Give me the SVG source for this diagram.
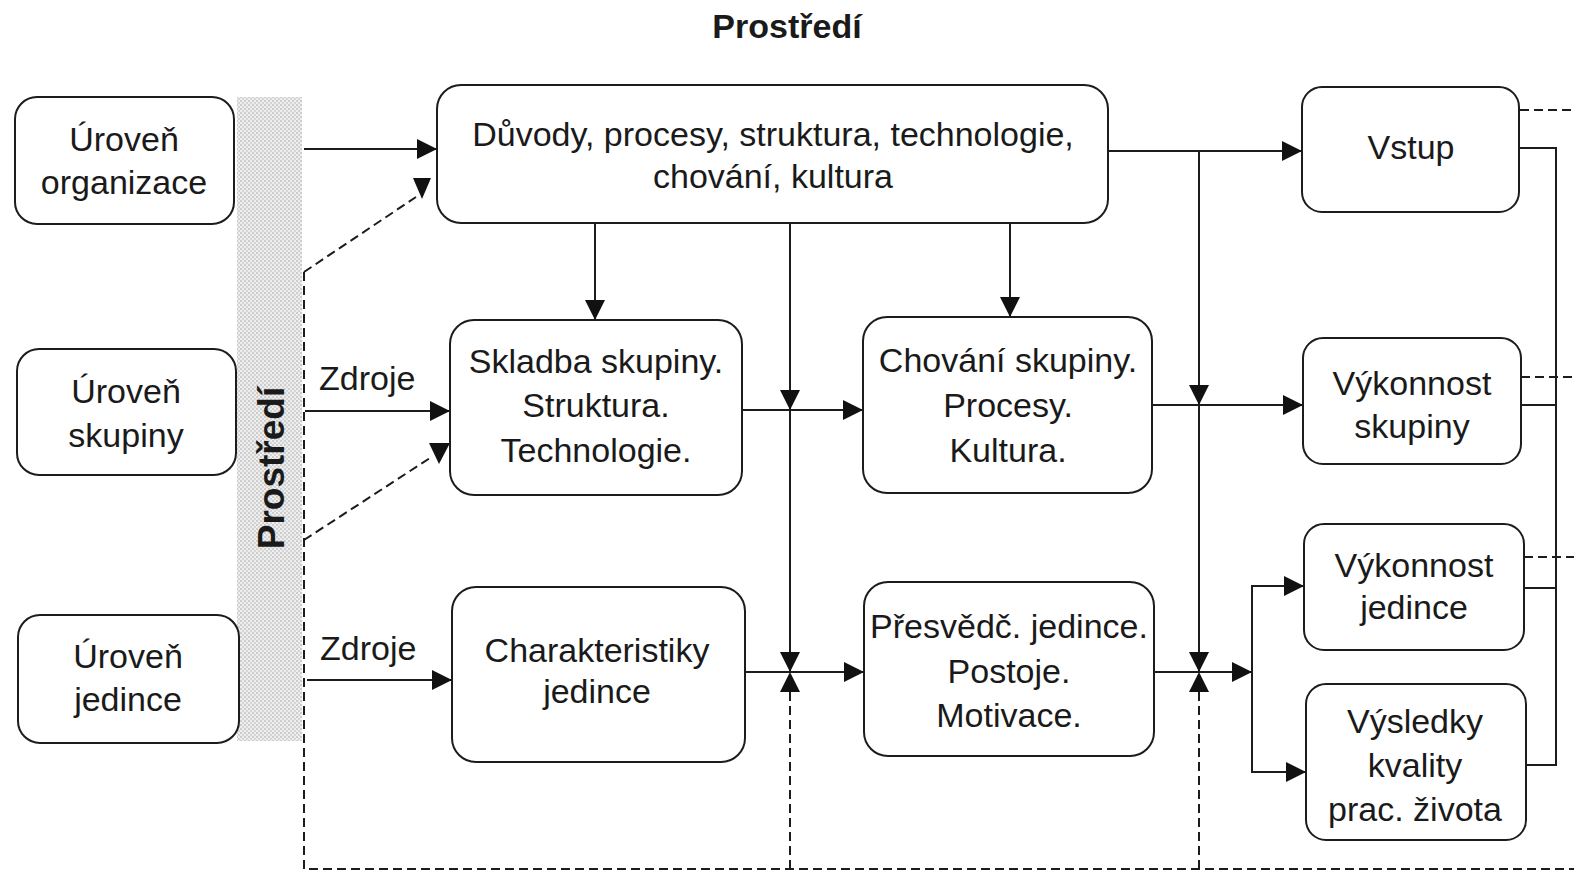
<svg xmlns="http://www.w3.org/2000/svg" width="1574" height="876" viewBox="0 0 1574 876">
  <style>
    .box { fill: #ffffff; stroke: #1c1c1c; stroke-width: 2; }
    .lbl { font-family: "Liberation Sans", Arial, sans-serif; font-size: 34px; fill: #1a1a1a; text-anchor: middle; }
    .edge-lbl { font-family: "Liberation Sans", Arial, sans-serif; font-size: 34px; fill: #1a1a1a; text-anchor: start; }
    .ttl { font-family: "Liberation Sans", Arial, sans-serif; font-size: 34px; font-weight: bold; fill: #1a1a1a; text-anchor: middle; }
    .ln { fill: none; stroke: #1c1c1c; stroke-width: 2; }
    .dash { fill: none; stroke: #1c1c1c; stroke-width: 2; stroke-dasharray: 9 5; }
    .head { fill: #111111; stroke: none; }
  </style>
  <defs>
    <marker id="arr" viewBox="0 0 20 20" refX="20" refY="10" markerWidth="20" markerHeight="20" markerUnits="userSpaceOnUse" orient="auto">
      <path d="M0,0 L20,10 L0,20 z" fill="#111111"/>
    </marker>
    <pattern id="dots" width="4" height="4" patternUnits="userSpaceOnUse">
      <rect width="4" height="4" fill="#eeeeee"/>
      <circle cx="1" cy="1" r="0.9" fill="#bdbdbd"/>
      <circle cx="3" cy="3" r="0.9" fill="#c8c8c8"/>
    </pattern>
  </defs>

  <rect width="1574" height="876" fill="#ffffff"/>

  <!-- environment band on the left -->
  <g id="env-band">
    <rect x="237" y="97" width="65" height="644" fill="url(#dots)"/>
    <text class="ttl" transform="translate(284,468) rotate(-90)" style="font-size:37px">Prostředí</text>
  </g>

  <!-- heading -->
  <g id="env-title">
    <text class="ttl" x="787" y="38">Prostředí</text>
  </g>

  <!-- connectors -->
  <g id="connectors">
    <!-- solid flows -->
    <path class="ln" d="M304,149 H437" marker-end="url(#arr)"/>
    <path class="ln" d="M305,411 H450" marker-end="url(#arr)"/>
    <path class="ln" d="M307,680 H452" marker-end="url(#arr)"/>
    <path class="ln" d="M595,223 V320" marker-end="url(#arr)"/>
    <path class="ln" d="M1010,223 V317" marker-end="url(#arr)"/>
    <path class="ln" d="M790,223 V410" marker-end="url(#arr)"/>
    <path class="ln" d="M790,410 V672" marker-end="url(#arr)"/>
    <path class="ln" d="M742,410 H863" marker-end="url(#arr)"/>
    <path class="ln" d="M745,672 H864" marker-end="url(#arr)"/>
    <path class="ln" d="M1108,151 H1302" marker-end="url(#arr)"/>
    <path class="ln" d="M1199,151 V405" marker-end="url(#arr)"/>
    <path class="ln" d="M1199,405 V672" marker-end="url(#arr)"/>
    <path class="ln" d="M1152,405 H1303" marker-end="url(#arr)"/>
    <path class="ln" d="M1154,672 H1252" marker-end="url(#arr)"/>
    <path class="ln" d="M1252,672 V586 H1304" marker-end="url(#arr)"/>
    <path class="ln" d="M1252,672 V772 H1306" marker-end="url(#arr)"/>
    <!-- outcome collector on the right -->
    <path class="ln" d="M1519,148 H1556 V765 H1526"/>
    <path class="ln" d="M1521,405 H1556"/>
    <path class="ln" d="M1524,588 H1556"/>

    <!-- resource labels -->
    <text class="edge-lbl" x="319" y="390">Zdroje</text>
    <text class="edge-lbl" x="320" y="660">Zdroje</text>

    <!-- dashed environment links -->
    <path class="dash" d="M304,272 V869 H1574"/>
    <path class="dash" d="M304,272 L416,197"/>
    <polygon class="head" points="413,178 431,178 422,199"/>
    <path class="dash" d="M304,540 L430,458"/>
    <polygon class="head" points="429,443 450,443 439,464"/>
    <path class="dash" d="M790,869 V672" marker-end="url(#arr)"/>
    <path class="dash" d="M1199,869 V672" marker-end="url(#arr)"/>
    <path class="dash" d="M1520,110 H1574"/>
    <path class="dash" d="M1521,377 H1574"/>
    <path class="dash" d="M1524,557 H1574"/>
  </g>

  <!-- level boxes -->
  <g id="level-org">
    <rect class="box" x="15" y="97" width="219" height="127" rx="22"/>
    <text class="lbl"><tspan x="124" y="151">Úroveň</tspan><tspan x="124" y="194">organizace</tspan></text>
  </g>
  <g id="level-group">
    <rect class="box" x="17" y="349" width="219" height="126" rx="22"/>
    <text class="lbl"><tspan x="126" y="403">Úroveň</tspan><tspan x="126" y="447">skupiny</tspan></text>
  </g>
  <g id="level-individual">
    <rect class="box" x="18" y="615" width="221" height="128" rx="22"/>
    <text class="lbl"><tspan x="128" y="668">Úroveň</tspan><tspan x="128" y="711">jedince</tspan></text>
  </g>

  <!-- organisation box -->
  <g id="org-factors">
    <rect class="box" x="437" y="85" width="671" height="138" rx="24"/>
    <text class="lbl"><tspan x="773" y="146">Důvody, procesy, struktura, technologie,</tspan><tspan x="773" y="188">chování, kultura</tspan></text>
  </g>

  <!-- group row -->
  <g id="group-composition">
    <rect class="box" x="450" y="320" width="292" height="175" rx="24"/>
    <text class="lbl"><tspan x="596" y="373">Skladba skupiny.</tspan><tspan x="596" y="417">Struktura.</tspan><tspan x="596" y="462">Technologie.</tspan></text>
  </g>
  <g id="group-behaviour">
    <rect class="box" x="863" y="317" width="289" height="176" rx="24"/>
    <text class="lbl"><tspan x="1008" y="372">Chování skupiny.</tspan><tspan x="1008" y="417">Procesy.</tspan><tspan x="1008" y="462">Kultura.</tspan></text>
  </g>

  <!-- individual row -->
  <g id="individual-traits">
    <rect class="box" x="452" y="587" width="293" height="175" rx="24"/>
    <text class="lbl"><tspan x="597" y="662">Charakteristiky</tspan><tspan x="597" y="703">jedince</tspan></text>
  </g>
  <g id="individual-beliefs">
    <rect class="box" x="864" y="582" width="290" height="174" rx="24"/>
    <text class="lbl"><tspan x="1009" y="638">Přesvědč. jedince.</tspan><tspan x="1009" y="683">Postoje.</tspan><tspan x="1009" y="727">Motivace.</tspan></text>
  </g>

  <!-- outcomes -->
  <g id="out-input">
    <rect class="box" x="1302" y="87" width="217" height="125" rx="20"/>
    <text class="lbl" x="1411" y="159">Vstup</text>
  </g>
  <g id="out-group-perf">
    <rect class="box" x="1303" y="338" width="218" height="126" rx="20"/>
    <text class="lbl"><tspan x="1412" y="395">Výkonnost</tspan><tspan x="1412" y="438">skupiny</tspan></text>
  </g>
  <g id="out-individual-perf">
    <rect class="box" x="1304" y="524" width="220" height="126" rx="20"/>
    <text class="lbl"><tspan x="1414" y="577">Výkonnost</tspan><tspan x="1414" y="619">jedince</tspan></text>
  </g>
  <g id="out-worklife">
    <rect class="box" x="1306" y="684" width="220" height="156" rx="20"/>
    <text class="lbl"><tspan x="1415" y="733">Výsledky</tspan><tspan x="1415" y="777">kvality</tspan><tspan x="1415" y="821">prac. života</tspan></text>
  </g>
</svg>
